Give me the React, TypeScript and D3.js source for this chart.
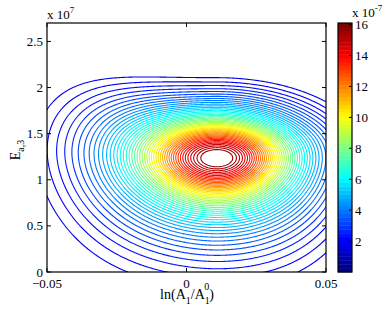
import React from 'react'
import * as d3 from 'd3'

// axis ticks
const xTicks = [-0.05, 0, 0.05]
const xTickLabels = ['\u22120.05', '0', '0.05']
const yTicks = [0, 0.5e7, 1e7, 1.5e7, 2e7, 2.5e7]
const yTickLabels = ['0', '0.5', '1', '1.5', '2', '2.5']
const cTicks = [2, 4, 6, 8, 10, 12, 14, 16]

// contour levels, in units of 1e-7
const levels = [
    1.6, 1.9, 2.2, 2.5, 2.8, 3.1, 3.4, 3.7, 4.0, 4.3, 4.6, 4.9,
    5.2, 5.5, 5.8, 6.1, 6.4, 6.7, 7.0, 7.3, 7.6, 7.9, 8.2, 8.5,
    8.8, 9.1, 9.4, 9.7, 10.0, 10.3, 10.6, 10.9, 11.2, 11.5, 11.8, 12.1,
    12.4, 12.7, 13.0, 13.3, 13.6, 13.9, 14.2, 14.5, 14.8, 15.1, 15.4, 15.7
]
const colorMax = 16.1

// surface (peak, spread and skew of the lobe)
const peakValue = 16.3
const peakX = 0.0109
const peakY = 1.236e7
const spreadX = 0.0208
const spreadY = 3.36e6
const bowLeft = 0.03
const funnel = 0.067
const lowerTail = 0.145
const leftTail = 0.06
const tailShape = 3

const plot = { left: 47, right: 326, top: 23, bottom: 272 }
const bar = { left: 338, right: 352, top: 23, bottom: 272 }
const font = '"Liberation Serif", "Times New Roman", serif'

function jet(t: number) {
    const c = (v: number) => Math.round(255 * Math.max(0, Math.min(1, v)))
    return `rgb(${c(1.5 - Math.abs(4 * t - 3))},${c(1.5 - Math.abs(4 * t - 2))},${c(1.5 - Math.abs(4 * t - 1))})`
}

// smooth "negative part": ~|t| for t << 0, ~0 for t >= 0
function negPart(t: number) {
    const d = 0.3
    return (Math.sqrt(t * t + d * d) - t - d) / 2
}

function surface(xv: number, yv: number) {
    const u = (xv - peakX) / spreadX
    let v = (yv - peakY) / spreadY
    // ridge bends up on the left
    if (u < 0) v -= bowLeft * u * u
    // lobe widens away from the core: on the left in both halves, on the right only below
    const below = u < 0 ? 1 : 1 / (1 + Math.exp(v / 0.4))
    v = v / (1 + funnel * u * u * below)
    const vb = v / (1 + lowerTail * negPart(v))
    const ub = u / (1 + leftTail * negPart(u))
    const r2 = ub * ub + vb * vb
    return peakValue * Math.pow(1 + r2 / (2 * tailShape), -tailShape)
}

export default function App() {
    const x = d3.scaleLinear().domain([-0.05, 0.05]).range([plot.left, plot.right])
    const y = d3.scaleLinear().domain([0, 2.7e7]).range([plot.bottom, plot.top])
    const c = d3.scaleLinear().domain([0, colorMax]).range([bar.bottom, bar.top])

    // sample on a pixel grid a bit larger than the axes, then clip
    const pad = 12
    const gx0 = plot.left - pad
    const gy0 = plot.top - pad
    const n = plot.right - plot.left + 2 * pad + 1
    const m = plot.bottom - plot.top + 2 * pad + 1
    const values: number[] = new Array(n * m)
    for (let j = 0; j < m; j++) {
        for (let i = 0; i < n; i++) {
            values[j * n + i] = surface(x.invert(gx0 + i), y.invert(gy0 + j))
        }
    }
    const contours = d3.contours().size([n, m]).thresholds(levels)(values)
    const path = d3.geoPath(d3.geoIdentity().translate([gx0 - 0.5, gy0 - 0.5]))

    const bands = d3.range(64)
    const bandH = (bar.bottom - bar.top) / 64

    return (
        <div style={{ position: 'absolute', left: 0, top: 0 }}>
            <svg width={390} height={309} style={{ display: 'block', background: '#fff' }}>
                <defs>
                    <clipPath id="plotClip">
                        <rect x={plot.left} y={plot.top} width={plot.right - plot.left} height={plot.bottom - plot.top} />
                    </clipPath>
                </defs>
                <g clipPath="url(#plotClip)" fill="none" strokeWidth={1.1}>
                    {contours.map((ct, k) => (
                        <path key={k} d={path(ct) || ''} stroke={jet(ct.value / colorMax)} />
                    ))}
                </g>

                {/* axes box and ticks */}
                <rect x={plot.left} y={plot.top} width={plot.right - plot.left} height={plot.bottom - plot.top}
                    fill="none" stroke="#000" strokeWidth={1.2} />
                {xTicks.map((t, i) => (
                    <g key={'x' + i}>
                        <line x1={x(t)} x2={x(t)} y1={plot.bottom} y2={plot.bottom - 4} stroke="#000" />
                        <line x1={x(t)} x2={x(t)} y1={plot.top} y2={plot.top + 4} stroke="#000" />
                        <text x={x(t)} y={288} textAnchor="middle" fontFamily={font} fontSize={13}>{xTickLabels[i]}</text>
                    </g>
                ))}
                {yTicks.map((t, i) => (
                    <g key={'y' + i}>
                        <line x1={plot.left} x2={plot.left + 4} y1={y(t)} y2={y(t)} stroke="#000" />
                        <line x1={plot.right} x2={plot.right - 4} y1={y(t)} y2={y(t)} stroke="#000" />
                        <text x={43} y={y(t) + 4.5} textAnchor="end" fontFamily={font} fontSize={13}>{yTickLabels[i]}</text>
                    </g>
                ))}
                <text x={47} y={19} fontFamily={font} fontSize={13}>
                    x 10<tspan dy={-6} fontSize={9}>7</tspan>
                </text>

                {/* axis labels */}
                <text x={187} y={299} textAnchor="middle" fontFamily={font} fontSize={14}>
                    ln(A<tspan dy={5} fontSize={10}>1</tspan>
                    <tspan dy={-5}>/A</tspan>
                    <tspan dy={5} fontSize={10}>1</tspan>
                    <tspan dx={-5.5} dy={-14} fontSize={10}>0</tspan>
                    <tspan dy={9}>)</tspan>
                </text>
                <text transform="translate(20,150) rotate(-90)" textAnchor="middle" fontFamily={font} fontSize={14}>
                    E<tspan dy={4} fontSize={10}>a,3</tspan>
                </text>

                {/* colorbar */}
                {bands.map(i => (
                    <rect key={'b' + i} x={bar.left} y={bar.bottom - (i + 1) * bandH} width={bar.right - bar.left}
                        height={bandH + 0.4} fill={jet(i / 63)} />
                ))}
                <rect x={bar.left} y={bar.top} width={bar.right - bar.left} height={bar.bottom - bar.top}
                    fill="none" stroke="#000" strokeWidth={1.2} />
                {cTicks.map(t => (
                    <g key={'c' + t}>
                        <line x1={bar.right} x2={bar.right - 3} y1={c(t)} y2={c(t)} stroke="#000" />
                        <text x={355} y={c(t) + 4.5} fontFamily={font} fontSize={13}>{t}</text>
                    </g>
                ))}
                <text x={352} y={17} fontFamily={font} fontSize={13}>
                    x 10<tspan dy={-6} fontSize={9}>-7</tspan>
                </text>
            </svg>
        </div>
    )
}
